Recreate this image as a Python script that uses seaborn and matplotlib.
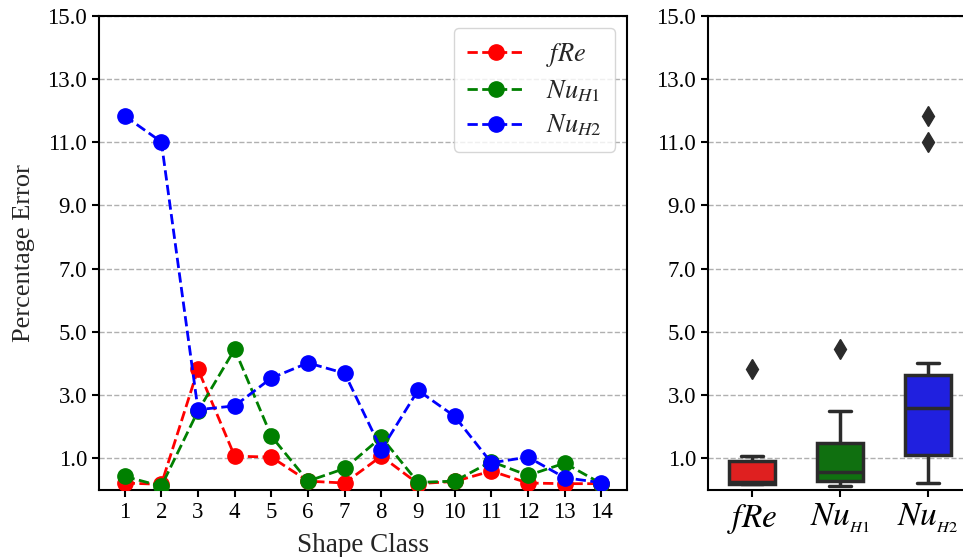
import matplotlib
matplotlib.use("Agg")
import matplotlib.pyplot as plt
import seaborn as sns
import pandas as pd
import numpy as np

shape_class = list(range(1, 15))
fre = [0.22, 0.18, 3.82, 1.07, 1.04, 0.28, 0.22, 1.07, 0.20, 0.27, 0.60, 0.22, 0.20, 0.20]
nu_h1 = [0.43, 0.12, 2.50, 4.45, 1.70, 0.28, 0.68, 1.67, 0.24, 0.28, 0.90, 0.46, 0.85, 0.20]
nu_h2 = [11.83, 11.01, 2.54, 2.66, 3.54, 4.02, 3.69, 1.28, 3.15, 2.33, 0.86, 1.04, 0.39, 0.23]

series_labels = [r"$fRe$", r"$Nu_{H1}$", r"$Nu_{H2}$"]
box_labels = [r"$fRe$", r"$Nu_{_{H1}}$", r"$Nu_{_{H2}}$"]
colors = ["red", "green", "blue"]
yticks = [1.0, 3.0, 5.0, 7.0, 9.0, 11.0, 13.0, 15.0]

sns.set_theme(style="ticks")
plt.rcParams["font.family"] = ["Liberation Serif", "DejaVu Serif"]
plt.rcParams["mathtext.fontset"] = "stix"

fig = plt.figure(figsize=(9.63, 5.57), dpi=100)
ax1 = fig.add_axes([0.1028, 0.1203, 0.5483, 0.8515])
ax2 = fig.add_axes([0.7352, 0.1203, 0.2741, 0.8515])

for lab, vals, c in zip(series_labels, [fre, nu_h1, nu_h2], colors):
    ax1.plot(shape_class, vals, linestyle="--", marker="o", color=c,
             markersize=11, linewidth=2, label=lab, zorder=3)

ax1.set_xlim(0.3, 14.7)
ax1.set_ylim(0, 15)
ax1.set_xticks(shape_class)
ax1.set_yticks(yticks)
ax1.set_yticklabels([f"{v:.1f}" for v in yticks])
ax1.yaxis.grid(True, linestyle="--", color="#b0b0b0", linewidth=1)
ax1.set_axisbelow(True)
ax1.set_xlabel("Shape Class", fontsize=19.5, labelpad=7)
ax1.set_ylabel("Percentage Error", fontsize=19, labelpad=9)
ax1.tick_params(labelsize=16.5, width=1.5, length=5, colors="black")
for s in ax1.spines.values():
    s.set_linewidth(1.5)
    s.set_color("black")
leg = ax1.legend(loc="upper right", fontsize=19, frameon=True, fancybox=True,
                 handlelength=2.2, borderpad=0.5, labelspacing=0.35,
                 borderaxespad=0.45)
leg.get_frame().set_edgecolor("#cccccc")

box_df = pd.DataFrame({
    "metric": sum([[lab] * len(shape_class) for lab in box_labels], []),
    "err": fre + nu_h1 + nu_h2,
})
sns.boxplot(data=box_df, x="metric", y="err", hue="metric", palette=colors,
            order=box_labels, hue_order=box_labels, ax=ax2, width=0.52,
            linewidth=2.5, linecolor="#2b2b2b", legend=False,
            flierprops=dict(marker="d", markersize=10, markerfacecolor="#2b2b2b",
                            markeredgecolor="#2b2b2b"))
ax2.set_ylim(0, 15)
ax2.set_xlim(-0.5, 2.5)
ax2.set_yticks(yticks)
ax2.set_yticklabels([f"{v:.1f}" for v in yticks])
ax2.yaxis.grid(True, linestyle="--", color="#b0b0b0", linewidth=1)
ax2.set_axisbelow(True)
ax2.set_xlabel("")
ax2.set_ylabel("")
ax2.tick_params(axis="y", labelsize=16.5, width=1.5, length=5, colors="black")
ax2.tick_params(axis="x", labelsize=24, width=1.5, length=5, colors="black")
for s in ax2.spines.values():
    s.set_linewidth(1.5)
    s.set_color("black")

fig.savefig("out.png", dpi=100)
